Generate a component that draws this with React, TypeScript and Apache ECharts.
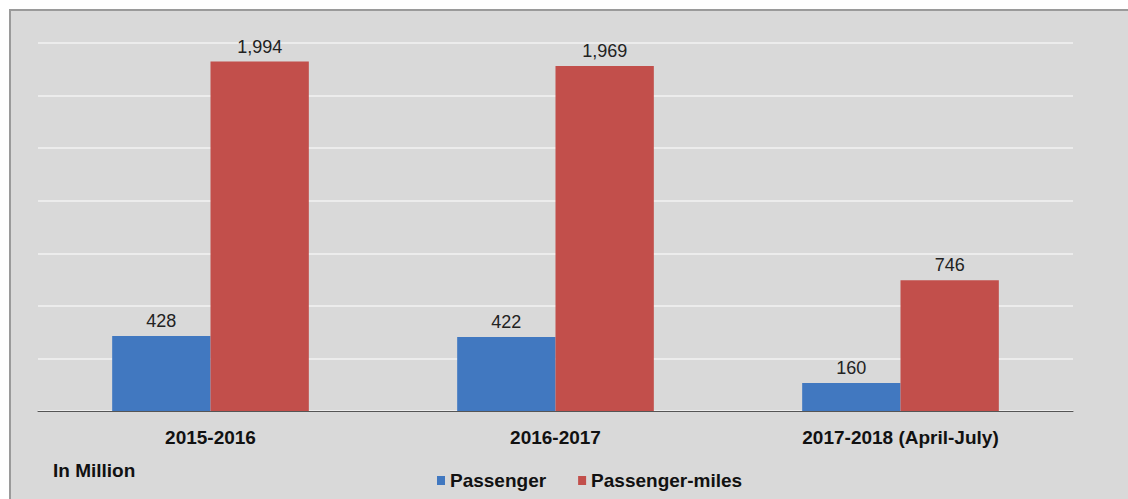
import React, { useEffect, useRef } from "react";
import * as echarts from "echarts";

const categories = ["2015-2016", "2016-2017", "2017-2018 (April-July)"];
const passenger = [428, 422, 160];
const passengerMiles = [1994, 1969, 746];
const seriesNames = ["Passenger", "Passenger-miles"];
const unitLabel = "In Million";

const FONT = "'Liberation Sans', Arial, sans-serif";

export default function App() {
  const ref = useRef<HTMLDivElement>(null);
  useEffect(() => {
    if (!ref.current) return;
    const chart = echarts.init(ref.current, null, { renderer: "svg" });
    const fmt = (p: any) => Number(p.value).toLocaleString("en-US");
    chart.setOption({
      animation: false,
      backgroundColor: "#ffffff",
      textStyle: { fontFamily: FONT },
      graphic: [
        {
          type: "rect",
          z: -10,
          silent: true,
          shape: { x: 10, y: 10, width: 1130, height: 500 },
          style: { fill: "#d9d9d9", stroke: "#9a9a9a", lineWidth: 2 },
        },
        {
          type: "text",
          left: 53,
          top: 461,
          style: {
            text: unitLabel,
            font: `bold 19px ${FONT}`,
            fill: "#111",
          },
        },
      ],
      legend: {
        data: seriesNames,
        left: 432,
        top: 466,
        itemWidth: 8,
        itemHeight: 9,
        itemGap: 32,
        icon: "rect",
        textStyle: { fontSize: 19, fontWeight: "bold", color: "#111", fontFamily: FONT, padding: [0, 0, 0, 0] },
      },
      grid: { left: 38, right: 55, top: 43, bottom: 88 },
      xAxis: {
        type: "category",
        data: categories,
        axisLine: { lineStyle: { color: "#555", width: 1 } },
        axisTick: { show: false },
        axisLabel: { fontSize: 19, fontWeight: "bold", color: "#111", margin: 17, fontFamily: FONT },
      },
      yAxis: {
        type: "value",
        min: 0,
        max: 2100,
        interval: 300,
        axisLabel: { show: false },
        axisLine: { show: false },
        axisTick: { show: false },
        splitLine: { lineStyle: { color: "#f2f2f2", width: 1.5 } },
      },
      series: [
        {
          name: seriesNames[0],
          type: "bar",
          data: passenger,
          barGap: "0%",
          barCategoryGap: "43%",
          itemStyle: { color: "#4178c0" },
          label: { show: true, position: "top", distance: 6, fontSize: 18, color: "#222", formatter: fmt, fontFamily: FONT },
        },
        {
          name: seriesNames[1],
          type: "bar",
          data: passengerMiles,
          barGap: "0%",
          barCategoryGap: "43%",
          itemStyle: { color: "#c24f4b" },
          label: { show: true, position: "top", distance: 6, fontSize: 18, color: "#222", formatter: fmt, fontFamily: FONT },
        },
      ],
    });
    return () => chart.dispose();
  }, []);
  return (
    <div
      ref={ref}
      style={{ position: "fixed", left: 0, top: 0, width: 1128, height: 499 }}
    />
  );
}
